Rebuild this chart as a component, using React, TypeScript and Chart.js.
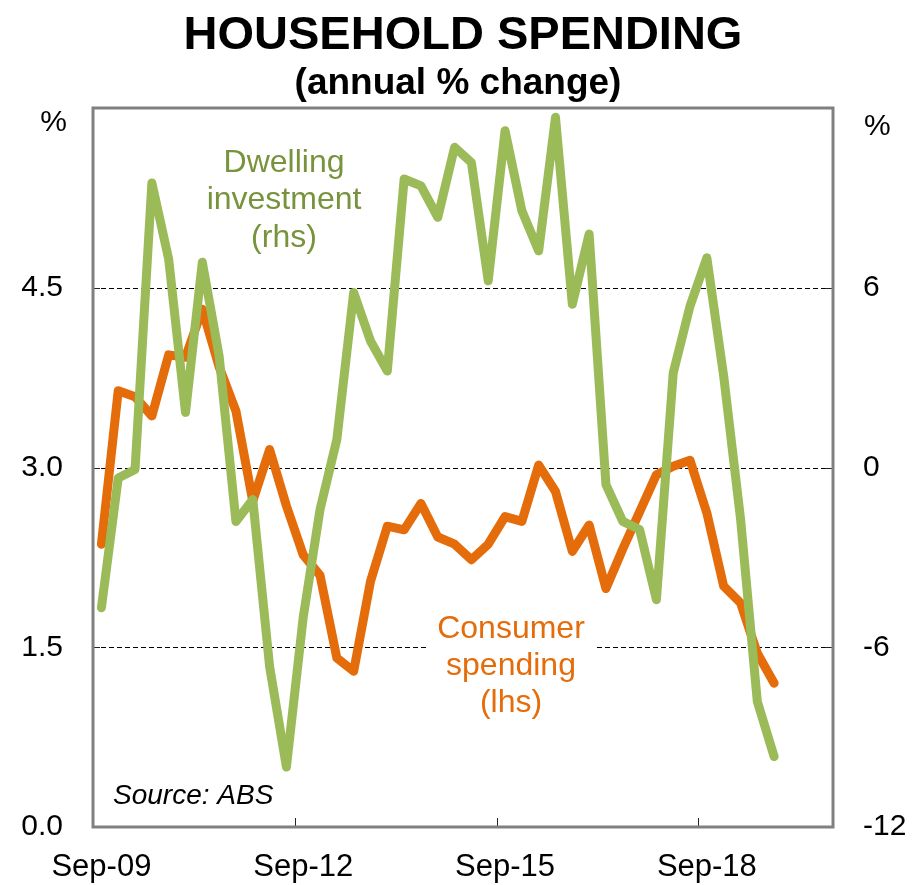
import React, { useEffect, useRef } from "react";
import { Chart, registerables } from "chart.js";

Chart.register(...registerables);

const categories = [
  "Sep-09", "Dec-09", "Mar-10", "Jun-10", "Sep-10", "Dec-10", "Mar-11", "Jun-11",
  "Sep-11", "Dec-11", "Mar-12", "Jun-12", "Sep-12", "Dec-12", "Mar-13", "Jun-13",
  "Sep-13", "Dec-13", "Mar-14", "Jun-14", "Sep-14", "Dec-14", "Mar-15", "Jun-15",
  "Sep-15", "Dec-15", "Mar-16", "Jun-16", "Sep-16", "Dec-16", "Mar-17", "Jun-17",
  "Sep-17", "Dec-17", "Mar-18", "Jun-18", "Sep-18", "Dec-18", "Mar-19", "Jun-19",
  "Sep-19", "Dec-19", "Mar-20", "Jun-20",
];

// Consumer spending, annual % change (lhs)
const consumerSpending = [
  2.36, 3.64, 3.59, 3.43, 3.94, 3.92, 4.32, 3.84, 3.47, 2.72,
  3.15, 2.68, 2.27, 2.1, 1.41, 1.3, 2.05, 2.51, 2.48, 2.7,
  2.42, 2.36, 2.23, 2.36, 2.59, 2.55, 3.02, 2.8, 2.3, 2.52,
  1.99, 2.32, 2.63, 2.94, 3.01, 3.06, 2.62, 2.01, 1.87, 1.45,
  1.2,
];

// Dwelling investment, annual % change (rhs)
const dwellingInvestment = [
  -4.68, -0.35, -0.07, 9.5, 6.95, 1.84, 6.85, 3.72, -1.8, -1.07,
  -6.64, -10.0, -5.0, -1.4, 0.94, 5.84, 4.22, 3.22, 9.63, 9.4,
  8.35, 10.69, 10.18, 6.23, 11.24, 8.57, 7.23, 11.69, 5.45, 7.79,
  -0.57, -1.8, -2.07, -4.41, 3.16, 5.39, 7.0, 3.05, -1.7, -7.81,
  -9.65,
];

const leftTicks = [0, 1.5, 3, 4.5, 6];
const rightTicks = [-12, -6, 0, 6, 12];
const gridValues = [1.5, 3, 4.5];
const labelEvery = 12;

const FONT = '"Liberation Sans", Arial, sans-serif';
const GREEN = "#9BBB59";
const GREEN_TEXT = "#77933C";
const ORANGE = "#E46C0A";

const overlayPlugin = {
  id: "overlay",
  beforeDatasetsDraw(chart: any) {
    const { ctx, chartArea } = chart;
    const { left, right } = chartArea;
    const y = chart.scales.y;
    ctx.save();
    ctx.strokeStyle = "#000";
    ctx.lineWidth = 1;
    ctx.setLineDash([5, 3]);
    for (const v of gridValues) {
      const py = Math.round(y.getPixelForValue(v)) + 0.5;
      ctx.beginPath();
      ctx.moveTo(left, py);
      ctx.lineTo(right, py);
      ctx.stroke();
    }
    ctx.setLineDash([]);

    // white box behind consumer label
    ctx.fillStyle = "#fff";
    ctx.fillRect(427, 604, 168, 118);

    ctx.textAlign = "center";
    ctx.textBaseline = "alphabetic";
    ctx.font = `32px ${FONT}`;
    ctx.fillStyle = GREEN_TEXT;
    ctx.fillText("Dwelling", 284, 172);
    ctx.fillText("investment", 284, 209);
    ctx.fillText("(rhs)", 284, 247);

    ctx.fillStyle = ORANGE;
    ctx.fillText("Consumer", 511, 638);
    ctx.fillText("spending", 511, 675);
    ctx.fillText("(lhs)", 511, 712);

    ctx.textAlign = "left";
    ctx.fillStyle = "#000";
    ctx.font = `italic 28px ${FONT}`;
    ctx.fillText("Source: ABS", 113, 804);
    ctx.restore();
  },
  afterDraw(chart: any) {
    const { ctx, chartArea } = chart;
    const { left, right, top, bottom } = chartArea;
    const x = chart.scales.x;
    const y = chart.scales.y;
    const y1 = chart.scales.y1;
    ctx.save();

    // inside tick marks
    ctx.strokeStyle = "#222";
    ctx.lineWidth = 1;
    for (let i = labelEvery; i < categories.length; i += labelEvery) {
      const px = Math.round((x.getPixelForValue(i) + x.getPixelForValue(i - 1)) / 2) + 0.5;
      ctx.beginPath();
      ctx.moveTo(px, bottom);
      ctx.lineTo(px, bottom - 9);
      ctx.stroke();
    }
    for (const v of gridValues) {
      const py = Math.round(y.getPixelForValue(v)) + 0.5;
      ctx.beginPath();
      ctx.moveTo(left, py);
      ctx.lineTo(left + 7, py);
      ctx.stroke();
    }
    for (const v of rightTicks.slice(1, -1)) {
      const py = Math.round(y1.getPixelForValue(v)) + 0.5;
      ctx.beginPath();
      ctx.moveTo(right, py);
      ctx.lineTo(right - 8, py);
      ctx.stroke();
    }

    // plot frame
    ctx.strokeStyle = "#808080";
    ctx.lineWidth = 3;
    ctx.strokeRect(left, top, right - left, bottom - top);

    // titles
    ctx.fillStyle = "#000";
    ctx.textAlign = "center";
    ctx.textBaseline = "alphabetic";
    ctx.font = `bold 47px ${FONT}`;
    ctx.fillText("HOUSEHOLD SPENDING", 463, 49);
    ctx.font = `bold 37px ${FONT}`;
    ctx.fillText("(annual % change)", 458, 94);

    // unit labels
    ctx.font = `30px ${FONT}`;
    ctx.textAlign = "right";
    ctx.textBaseline = "middle";
    ctx.fillText("%", 67, 123);
    ctx.textAlign = "left";
    ctx.fillText("%", 864, 127);
    ctx.restore();
  },
};

export default function App() {
  const ref = useRef<HTMLCanvasElement | null>(null);

  useEffect(() => {
    if (!ref.current) return;
    const chart = new Chart(ref.current, {
      type: "line",
      data: {
        labels: categories,
        datasets: [
          {
            label: "Dwelling investment (rhs)",
            data: dwellingInvestment,
            yAxisID: "y1",
            borderColor: GREEN,
            borderWidth: 9,
            borderJoinStyle: "round",
            borderCapStyle: "round",
            pointRadius: 0,
            tension: 0,
            fill: false,
          },
          {
            label: "Consumer spending (lhs)",
            data: consumerSpending,
            yAxisID: "y",
            borderColor: ORANGE,
            borderWidth: 9,
            borderJoinStyle: "round",
            borderCapStyle: "round",
            pointRadius: 0,
            tension: 0,
            fill: false,
          },
        ],
      },
      options: {
        responsive: false,
        animation: false,
        layout: { padding: { top: 108, left: 0, right: 0, bottom: 0 } },
        plugins: {
          legend: { display: false },
          title: { display: false },
          tooltip: { enabled: false },
        },
        scales: {
          x: {
            type: "category",
            offset: true,
            grid: { display: false, drawTicks: false },
            border: { display: false },
            ticks: {
              autoSkip: false,
              maxRotation: 0,
              minRotation: 0,
              padding: 22,
              color: "#000",
              font: { family: FONT, size: 31 },
              callback: (_v: any, idx: number) => (idx % labelEvery === 0 ? categories[idx] : ""),
            },
            afterFit: (s: any) => {
              s.height = 58;
            },
          },
          y: {
            type: "linear",
            position: "left",
            min: leftTicks[0],
            max: leftTicks[leftTicks.length - 1],
            afterBuildTicks: (s: any) => {
              s.ticks = leftTicks.map((v) => ({ value: v }));
            },
            grid: { display: false, drawTicks: false },
            border: { display: false },
            ticks: {
              padding: 30,
              color: "#000",
              font: { family: FONT, size: 30 },
              callback: (v: any) => (Number(v) === 6 ? "" : Number(v).toFixed(1)),
            },
            afterFit: (s: any) => {
              s.width = 93;
            },
          },
          y1: {
            type: "linear",
            position: "right",
            min: rightTicks[0],
            max: rightTicks[rightTicks.length - 1],
            afterBuildTicks: (s: any) => {
              s.ticks = rightTicks.map((v) => ({ value: v }));
            },
            grid: { display: false, drawTicks: false },
            border: { display: false },
            ticks: {
              padding: 30,
              color: "#000",
              font: { family: FONT, size: 30 },
              callback: (v: any) => (Number(v) === 12 ? "" : String(v)),
            },
            afterFit: (s: any) => {
              s.width = 80;
            },
          },
        },
      },
      plugins: [overlayPlugin],
    });
    return () => chart.destroy();
  }, []);

  return (
    <div style={{ position: "fixed", left: 0, top: 0, width: 913, height: 885, background: "#fff" }}>
      <canvas ref={ref} width={913} height={885} style={{ display: "block" }} />
    </div>
  );
}
